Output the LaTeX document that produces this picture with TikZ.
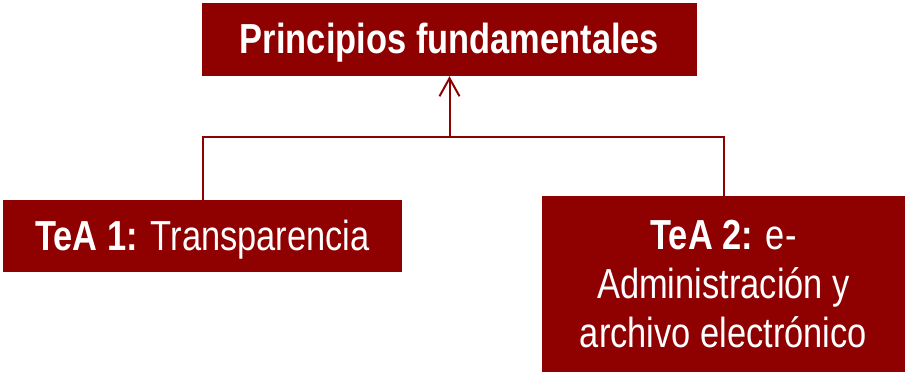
\documentclass[tikz,border=0pt]{standalone}
\usepackage{fontspec}
\setmainfont[FakeStretch=0.82]{Liberation Sans}
\usetikzlibrary{arrows.meta}
\definecolor{boxred}{RGB}{143,0,0}
\tikzset{
  box/.style={draw=none, fill=boxred, text=white, inner sep=0pt, align=center,
    font=\fontsize{42}{49}\selectfont},
  link/.style={draw=boxred, line width=2pt},
}
\begin{document}
\begin{tikzpicture}[x=1pt, y=-1pt]
\useasboundingbox (0,0) rectangle (906,374);
\node[box, minimum width=495pt, minimum height=73pt, text depth=3pt] (top) at (449.5,39.5) {\textbf{Principios fundamentales}};
\node[box, minimum width=399pt, minimum height=72pt, text depth=2pt] (left) at (202.5,236) {\textbf{TeA 1:} Transparencia};
\node[box, minimum width=363pt, minimum height=176pt] (right) at (723.5,284) {\textbf{TeA 2:} e-\\Administración y\\archivo electrónico};
\coordinate (j) at (top.south |- 0,137);
\draw[link] (left.north) |- (j) -| (right.north);
\draw[link, -{Straight Barb[length=18pt, width=20pt]}] (j) -- (top.south);
\end{tikzpicture}
\end{document}
